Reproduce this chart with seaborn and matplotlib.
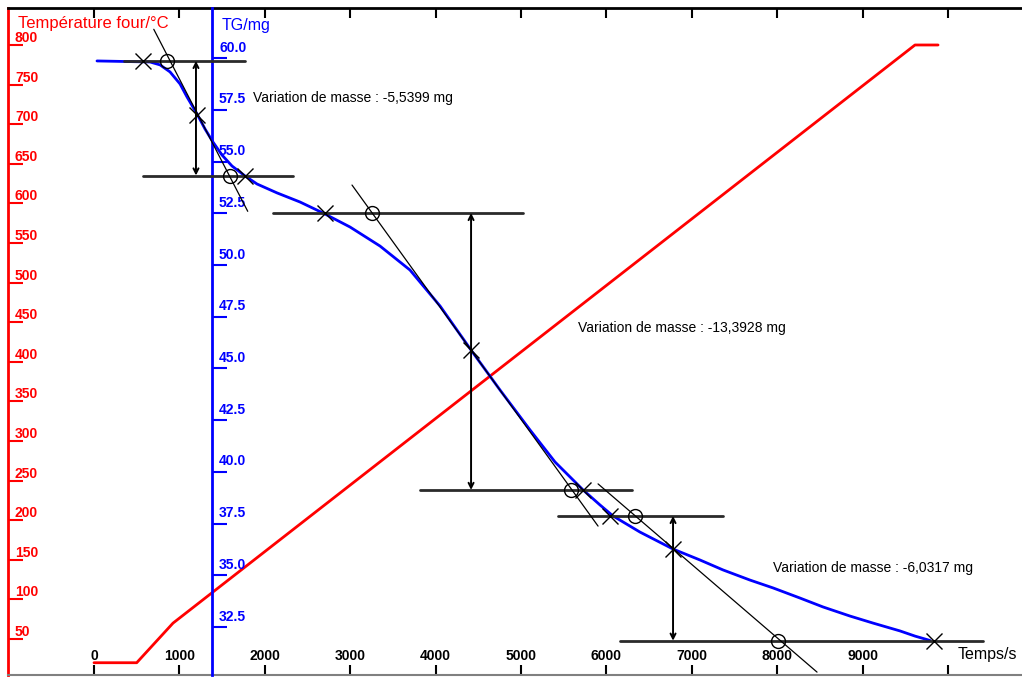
import matplotlib
matplotlib.use("Agg")
import matplotlib.pyplot as plt
from matplotlib.transforms import ScaledTranslation
import seaborn as sns

# --- furnace temperature programme ---
temp_time_s = [0, 500, 925, 9613, 9883]
temp_c = [20, 20, 70, 800, 800]

# --- thermogravimetric mass curve ---
tg_time_s = [35, 656, 773, 890, 1007, 1089, 1206, 1300, 1393, 1499, 1616, 1768,
             1909, 2143, 2412, 2681, 2998, 3349, 3700, 4052, 4415, 4754, 5105,
             5398, 5726, 5925, 6077, 6393, 6780, 7096, 7365, 7681, 7951, 8267,
             8536, 8852, 9122, 9438, 9614, 9789]
tg_mg = [59.87, 59.82, 59.68, 59.34, 58.76, 58.13, 57.31, 56.58, 55.95, 55.32,
         54.79, 54.31, 53.92, 53.49, 53.05, 52.52, 51.84, 50.92, 49.76, 48.02,
         45.89, 43.96, 42.03, 40.48, 39.13, 38.40, 37.87, 37.09, 36.27, 35.74,
         35.26, 34.77, 34.39, 33.90, 33.47, 33.03, 32.69, 32.31, 32.06, 31.85]

# --- mass-loss steps: plateau levels (start, end), measured loss ---
step_top_mg = [59.87, 52.52, 37.87]
step_loss_mg = [5.5399, 13.3928, 6.0317]
step_arrow_t = [1194, 4415, 6780]
step_top_span = [(350, 1768), (2096, 5023), (5433, 7365)]
step_bot_span = [(574, 2330), (3817, 6300), (6159, 10410)]
step_label_pos = [(1862, 58.08), (5667, 46.96), (7951, 35.35)]

# tangents through each inflection point (two end points each)
tangent_t = [(700, 1800), (3021, 5902), (5902, 8466)]
tangent_mg = [(61.40, 52.60), (53.87, 37.38), (39.42, 30.32)]

# onset / inflection / end marks on the curve, tangent intersections
cross_t = [574, 1206, 1768, 2705, 4415, 5726, 6042, 6780, 9836]
cross_mg = [59.87, 57.26, 54.33, 52.52, 45.89, 39.13, 37.87, 36.27, 31.84]
circle_t = [850, 1593, 3255, 5590, 6330, 8010]
circle_mg = [59.87, 54.33, 52.52, 39.13, 37.87, 31.84]

x_ticks = list(range(0, 10001, 1000))
x_ticklabels = [str(v) for v in range(0, 10000, 1000)] + [""]
temp_ticks = list(range(50, 801, 50))
tg_ticks = [32.5, 35.0, 37.5, 40.0, 42.5, 45.0, 47.5, 50.0, 52.5, 55.0, 57.5, 60.0]
tg_axis_t = 1383

sns.set_style("white")
plt.rcParams["font.family"] = ["Liberation Sans", "DejaVu Sans"]

fig = plt.figure(figsize=(10.22, 6.77), dpi=100)
ax = fig.add_axes([8 / 1022, 2 / 677, 1014 / 1022, 667 / 677])
ax.set_xlim(-1007, 10866)
ax.set_ylim(4.5, 846.7)

sns.lineplot(x=temp_time_s, y=temp_c, ax=ax, color="#ff0000", lw=2,
             estimator=None, sort=False)

# frame
ax.spines["right"].set_visible(False)
ax.spines["left"].set_color("#ff0000")
ax.spines["left"].set_linewidth(2)
ax.spines["top"].set_color("black")
ax.spines["top"].set_linewidth(2)
ax.spines["bottom"].set_color("#808080")
ax.spines["bottom"].set_linewidth(1.5)

ax.set_xticks(x_ticks)
ax.set_xticklabels(x_ticklabels)
ax.tick_params(axis="x", direction="in", length=7, width=1.5, top=True,
               bottom=True, labeltop=False, pad=-19, labelsize=10,
               color="black", labelcolor="black")
ax.set_yticks(temp_ticks)
ax.tick_params(axis="y", direction="in", length=11, width=1.5, color="#ff0000",
               labelcolor="#ff0000", pad=-5, labelsize=10)
plt.setp(ax.get_yticklabels(), ha="left", va="bottom", fontweight="bold")
plt.setp(ax.get_xticklabels(), fontweight="bold")
ax.set_xlabel("")
ax.set_ylabel("")

# mass axis
ax2 = ax.twinx()
ax2.set_ylim(30.18, 62.43)
for side in ("right", "top", "bottom"):
    ax2.spines[side].set_visible(False)
ax2.spines["left"].set_visible(True)
ax2.spines["left"].set_position(("data", tg_axis_t))
ax2.spines["left"].set_color("#0000ff")
ax2.spines["left"].set_linewidth(2)
ax2.yaxis.set_ticks_position("left")
ax2.set_yticks(tg_ticks)
ax2.set_yticklabels([f"{v:.1f}" for v in tg_ticks])
ax2.tick_params(axis="y", left=True, right=False, labelleft=True,
                labelright=False, direction="in", length=11, width=1.5,
                color="#0000ff", labelcolor="#0000ff", pad=-5, labelsize=10)
plt.setp(ax2.get_yticklabels(), ha="left", va="bottom", fontweight="bold")

# lift the mass-axis labels a little above their tick marks
lift = ScaledTranslation(0, 2.5 / 72, fig.dpi_scale_trans)
for lbl in ax2.get_yticklabels():
    lbl.set_transform(lbl.get_transform() + lift)

sns.lineplot(x=tg_time_s, y=tg_mg, ax=ax2, color="#0000ff", lw=2,
             estimator=None, sort=False, zorder=2)
for ln in ax2.get_lines():
    ln.set_solid_joinstyle("round")
ax2.set_ylabel("")

# step construction lines
line_kw = dict(color="#2a2a2a", lw=2, zorder=3)
for top, loss, (a0, a1), (b0, b1), t_arr in zip(step_top_mg, step_loss_mg,
                                                step_top_span, step_bot_span,
                                                step_arrow_t):
    bot = top - loss
    ax2.plot([a0, a1], [top, top], **line_kw)
    ax2.plot([b0, b1], [bot, bot], **line_kw)
    ax2.annotate("", xy=(t_arr, bot), xytext=(t_arr, top),
                 arrowprops=dict(arrowstyle="<->", lw=1.4, color="black",
                                 mutation_scale=9, shrinkA=0, shrinkB=0),
                 zorder=4)

for tt, mm in zip(tangent_t, tangent_mg):
    ax2.plot(tt, mm, color="black", lw=0.9, zorder=4)

ax2.plot(cross_t, cross_mg, ls="none", marker="x", ms=12, mew=1,
         color="black", zorder=5)
ax2.plot(circle_t, circle_mg, ls="none", marker="o", ms=10, mew=1,
         mfc="none", mec="black", zorder=5)

for (tx, my), loss in zip(step_label_pos, step_loss_mg):
    txt = f"Variation de masse : -{loss:.4f} mg".replace(".", ",")
    ax2.text(tx, my, txt, fontsize=10, color="black", va="center", ha="left")

# axis titles
ax.text(0.0099, 0.977, "Température four/°C", transform=ax.transAxes,
        color="#ff0000", fontsize=12, va="center", ha="left")
ax.text(0.211, 0.9745, "TG/mg", transform=ax.transAxes,
        color="#0000ff", fontsize=11.5, va="center", ha="left")
ax.text(10117, 30, "Temps/s", color="black", fontsize=11.5, va="center",
        ha="left")

fig.savefig("out.png", dpi=100)
